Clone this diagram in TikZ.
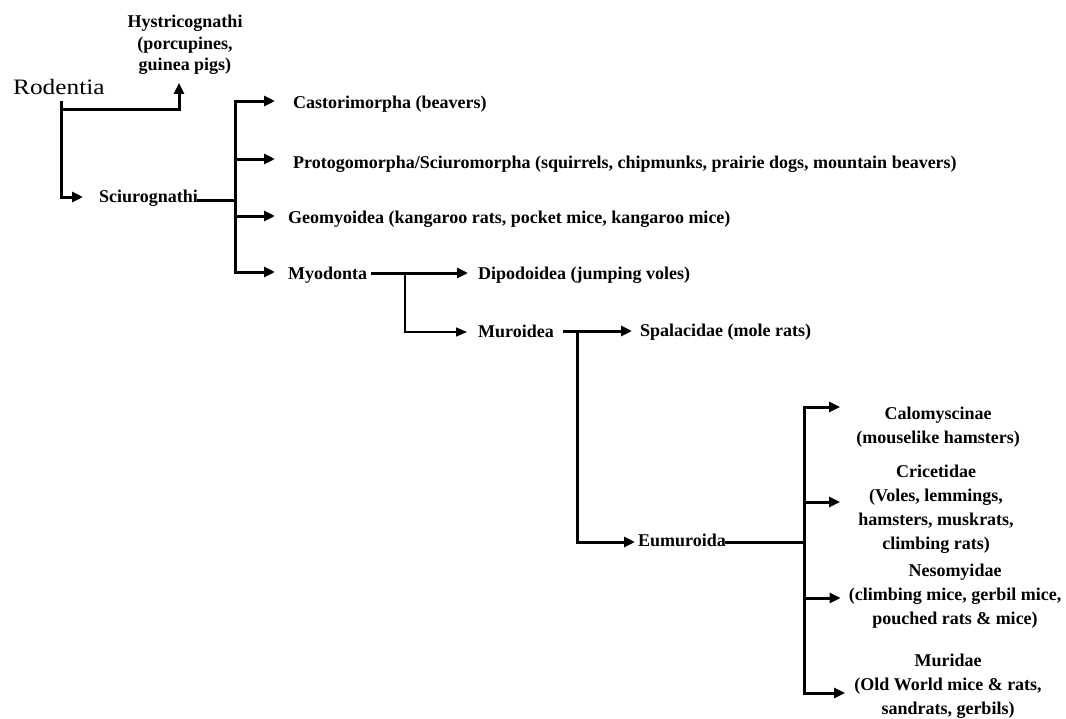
\documentclass[tikz,border=0pt]{standalone}
\usepackage{fontspec}
\setmainfont{Liberation Serif}
\usepackage{graphicx}
\usetikzlibrary{arrows.meta}
\begin{document}
\begin{tikzpicture}[x=1pt,y=-1pt,
  lbl/.style={font=\fontsize{18}{22}\selectfont\bfseries, inner sep=0pt, anchor=base west},
  blk/.style={font=\fontsize{18}{24}\selectfont\bfseries, inner sep=0pt, align=center},
  thk/.style={line width=3pt, line cap=rect},
  arr/.style={line width=3pt, line cap=rect, -{Triangle[length=11pt,width=10pt]}},
  tarr/.style={line width=1.3pt, -{Triangle[length=11pt,width=9pt]}},
]
\useasboundingbox (0,0) rectangle (1066,718);
\fill[white] (0,0) rectangle (1066,718);

% nodes
\node[font=\fontsize{22}{26}\selectfont, inner sep=0pt, anchor=base west] (rod) at (13,94) {\scalebox{1.15}[1]{Rodentia}};
\node[blk, font=\fontsize{18}{21.5}\selectfont\bfseries] (hys) at (185,45) {Hystricognathi\\(porcupines,\\guinea pigs)};
\node[lbl] (sci) at (99,202) {Sciurognathi};
\node[lbl] (cas) at (293,108) {Castorimorpha (beavers)};
\node[lbl] (pro) at (293,168) {Protogomorpha/Sciuromorpha (squirrels, chipmunks, prairie dogs, mountain beavers)};
\node[lbl] (geo) at (288,223) {Geomyoidea (kangaroo rats, pocket mice, kangaroo mice)};
\node[lbl] (myo) at (288,279) {Myodonta};
\node[lbl] (dip) at (478,279) {Dipodoidea (jumping voles)};
\node[lbl] (mur) at (478,337) {Muroidea};
\node[lbl] (spa) at (640,336) {Spalacidae (mole rats)};
\node[lbl] (eum) at (638,546) {Eumuroida};
\node[blk] (cal) at (938,427) {Calomyscinae\\(mouselike hamsters)};
\node[blk] (cri) at (936,509) {Cricetidae\\(Voles, lemmings,\\hamsters, muskrats,\\climbing rats)};
\node[blk] (nes) at (955,596) {Nesomyidae\\(climbing mice, gerbil mice,\\pouched rats \& mice)};
\node[blk] (muri) at (948,686) {Muridae\\(Old World mice \& rats,\\sandrats, gerbils)};

% branch points
\coordinate (rtop) at (61,102);
\coordinate (rh) at (61,109);
\coordinate (rb) at (61,197);
\coordinate (sj) at (235,200);
\coordinate (s1) at (235,101);
\coordinate (s2) at (235,159);
\coordinate (s3) at (235,216);
\coordinate (s4) at (235,272);
\coordinate (m1) at (375,273);
\coordinate (mv) at (405,273);
\coordinate (mb) at (405,332);
\coordinate (u1) at (577,331);
\coordinate (u2) at (577,542);
\coordinate (e0) at (804,542);
\coordinate (e1) at (804,407);
\coordinate (e2) at (804,502);
\coordinate (e3) at (804,598);
\coordinate (e4) at (804,693);

% Rodentia
\draw[arr, shorten >=16pt] (rtop) -- (rb) -- (rb -| sci.west);
\draw[arr, shorten >=8pt] (rh) -| ([xshift=-6pt]hys.south);

% Sciurognathi
\draw[thk] (sj -| sci.east) -- (sj);
\draw[thk] (s1) -- (s4);
\draw[arr, shorten >=18pt] (s1) -- (s1 -| cas.west);
\draw[arr, shorten >=18pt] (s2) -- (s2 -| pro.west);
\draw[arr, shorten >=13pt] (s3) -- (s3 -| geo.west);
\draw[arr, shorten >=13pt] (s4) -- (s4 -| myo.west);

% Myodonta
\draw[arr, shorten <=5pt, shorten >=10pt] (m1 -| myo.east) -- (m1 -| dip.west);
\draw[tarr, shorten >=11pt] (mv) -- (mb) -- (mb -| mur.west);

% Muroidea
\draw[arr, shorten <=10pt, shorten >=8pt] (u1 -| mur.east) -- (u1 -| spa.west);
\draw[arr, shorten >=3pt] (u1) -- (u2) -- (u2 -| eum.west);

% Eumuroida
\draw[thk] (e0 -| eum.east) -- (e0);
\draw[thk] (e1) -- (e4);
\draw[arr, shorten >=16pt] (e1) -- (e1 -| cal.west);
\draw[arr, shorten >=18pt] (e2) -- (e2 -| cri.west);
\draw[arr, shorten >=8pt] (e3) -- (e3 -| nes.west);
\draw[arr, shorten >=9pt] (e4) -- (e4 -| muri.west);
\end{tikzpicture}
\end{document}
